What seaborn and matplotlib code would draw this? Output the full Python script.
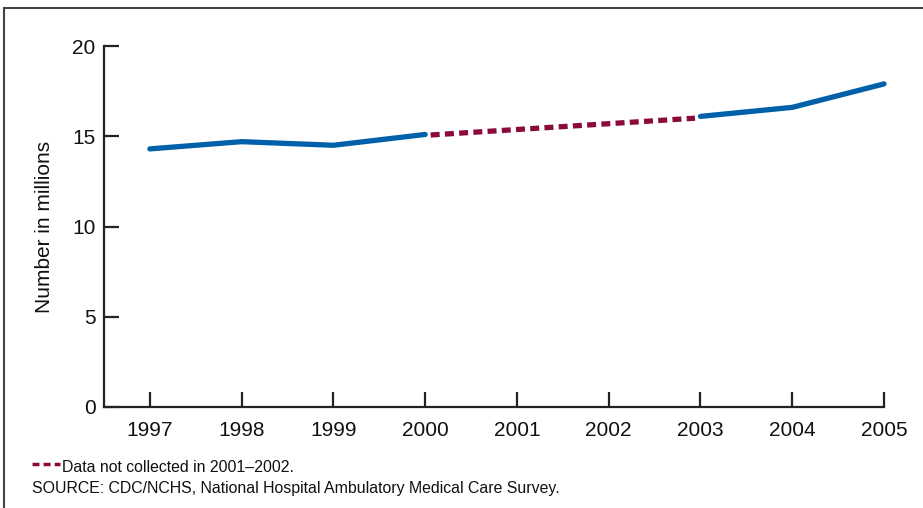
import numpy as np
import pandas as pd
import seaborn as sns
import matplotlib
matplotlib.use("Agg")
from matplotlib import pyplot as plt
from matplotlib.patches import Rectangle
from matplotlib.lines import Line2D

# Data (millions)
years = [1997, 1998, 1999, 2000, 2003, 2004, 2005]
visits = [14.3, 14.7, 14.5, 15.1, 16.1, 16.6, 17.9]
gap_years = [2000, 2003]
y_ticks = [0, 5, 10, 15, 20]

BLUE = "#0060a9"
MAROON = "#8a0a3c"

sns.set_style("ticks")
plt.rcParams["font.family"] = ["Liberation Sans", "DejaVu Sans"]

df = pd.DataFrame({"year": years, "visits": visits})
before = df[df["year"] <= 2000]
after = df[df["year"] >= 2003]
gap = df[df["year"].isin(gap_years)]

fig = plt.figure(figsize=(9.23, 5.08), dpi=100)
ax = fig.add_axes([104 / 923, 1 - 407 / 508, (884 - 104) / 923, (407 - 46) / 508])

# Make the plot
sns.lineplot(before, x="year", y="visits", ax=ax, color=BLUE, linewidth=3.8,
             solid_capstyle="round", clip_on=False)
sns.lineplot(after, x="year", y="visits", ax=ax, color=BLUE, linewidth=3.8,
             solid_capstyle="round", clip_on=False)
sns.lineplot(gap, x="year", y="visits", ax=ax, color=MAROON, linewidth=3.8,
             dashes=False, clip_on=False)
ax.lines[-1].set_dashes((1.7, 1.0))
ax.lines[-1].set_dash_capstyle("butt")
# small offsets so dashes sit between the blue ends
xd = ax.lines[-1].get_xdata()
ax.lines[-1].set_xdata([xd[0] + 0.06, xd[1] - 0.06])
yd = ax.lines[-1].get_ydata()
ax.lines[-1].set_ydata([yd[0] - 0.03, yd[1] - 0.1])

ax.set_xlim(1996.5, 2005)
ax.set_ylim(0, 20)
ax.set_xticks(range(1997, 2006))
ax.set_yticks(y_ticks)
ax.tick_params(direction="in", length=11, width=1.6, labelsize=15, color="#222222",
               labelcolor="#111111")
ax.tick_params(axis="x", pad=10)
ax.tick_params(axis="y", pad=6)
ax.set_xlabel("")
ax.set_ylabel("Number in millions", fontsize=15, color="#111111", labelpad=13)
for side in ["top", "right"]:
    ax.spines[side].set_visible(False)
for side in ["left", "bottom"]:
    ax.spines[side].set_linewidth(1.6)
    ax.spines[side].set_color("#222222")

# Frame around the figure (cut off at right and bottom)
fig.patches.append(Rectangle((4 / 923, -0.05), 1.1, 1 - 8 / 508 + 0.05,
                             transform=fig.transFigure, fill=False,
                             edgecolor="#444444", linewidth=1.5))

# Footnotes
fig.add_artist(Line2D([32 / 923, 60 / 923], [1 - 464 / 508] * 2, color=MAROON,
                      linewidth=2.5, dashes=(2.0, 1.2), transform=fig.transFigure))
fig.text(62 / 923, 1 - 468 / 508, "Data not collected in 2001\u20132002.", fontsize=11.4,
         color="#111111", va="center")
fig.text(32 / 923, 1 - 489 / 508,
         "SOURCE: CDC/NCHS, National Hospital Ambulatory Medical Care Survey.",
         fontsize=11.4, color="#111111", va="center")

plt.savefig("out.png", dpi=100)
plt.close()
